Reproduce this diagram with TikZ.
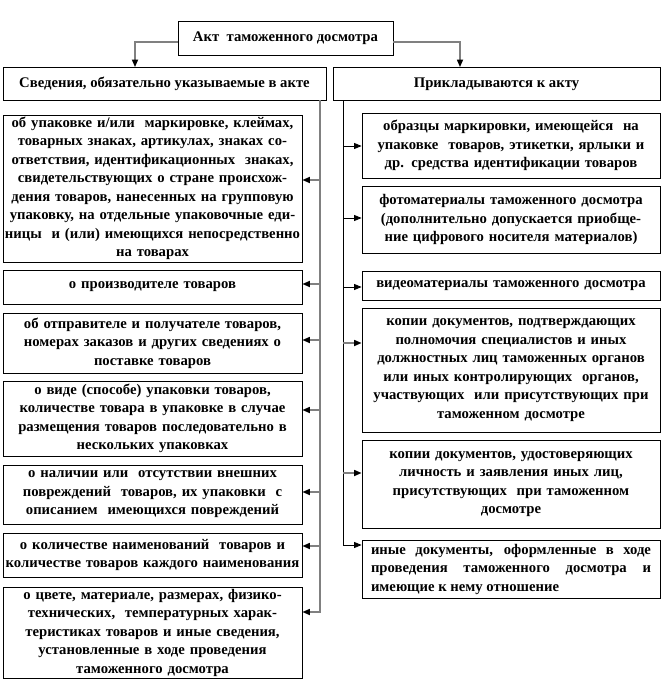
\documentclass[tikz,border=0pt]{standalone}
\usepackage{fontspec}
\setmainfont{Liberation Serif}
\usetikzlibrary{arrows.meta}

\begin{document}
\begin{tikzpicture}[x=1pt, y=-1pt,
    box/.style={draw, line width=0.8pt, align=center, inner sep=1pt,
      font=\bfseries\fontsize{14.7}{18.5}\selectfont},
    headbox/.style={box, font=\bfseries\fontsize{14.7}{17}\selectfont},
    lbox/.style={box, minimum width=299pt, text width=297pt},
    rbox/.style={box, minimum width=298pt, text width=296pt},
    gline/.style={draw=black!50, line width=1.6pt},
    garrow/.style={gline, -{Triangle[length=7.5pt, width=6pt, color=black]}},
    barrow/.style={draw=black, line width=0.8pt, -{Triangle[length=7.5pt, width=6pt]}}]
    \useasboundingbox (0,0) rectangle (662,682);

    % Top and headers
    \node[headbox, minimum width=215pt, minimum height=34pt] (act) at (285.5,38) {Акт\ \ таможенного досмотра};
    \node[headbox, minimum width=323pt, minimum height=33pt] (lhead) at (164.5,84) {Сведения, обязательно указываемые в акте};
    \node[headbox, minimum width=327pt, minimum height=33pt] (rhead) at (496.5,84) {Прикладываются к акту};

    \draw[garrow] ([yshift=-4pt]act.west) -| ([xshift=-29.5pt]lhead.north);
    \draw[garrow] ([yshift=-4pt]act.east) -| ([xshift=-36.5pt]rhead.north);

    % Left column
    \node[lbox, minimum height=147pt] (l1) at (152.5,188.5) {об упаковке и/или\ \ маркировке, клеймах,\\ товарных знаках, артикулах, знаках со-\\ ответствия, идентификационных\ \ знаках,\\ свидетельствующих о стране происхож-\\ дения товаров, нанесенных на групповую\\ упаковку, на отдельные упаковочные еди-\\ ницы\ \ и (или) имеющихся непосредственно\\ на товарах};
    \node[lbox, minimum height=34pt] (l2) at (152.5,287) {о производителе товаров};
    \node[lbox, minimum height=60pt] (l3) at (152.5,343) {об отправителе и получателе товаров,\\ номерах заказов и других сведениях о\\ поставке товаров};
    \node[lbox, minimum height=75pt] (l4) at (152.5,418.5) {о виде (способе) упаковки товаров,\\ количестве товара в упаковке в случае\\ размещения товаров последовательно в\\ нескольких упаковках};
    \node[lbox, minimum height=59pt] (l5) at (152.5,494.5) {о наличии или\ \ отсутствии внешних\\ повреждений\ \ товаров, их упаковки\ \ с\\ описанием\ \ имеющихся повреждений};
    \node[lbox, minimum height=44pt] (l6) at (152.5,555) {о количестве наименований\ \ товаров и\\ количестве товаров каждого наименования};
    \node[lbox, minimum height=91pt] (l7) at (152.5,632.5) {о цвете, материале, размерах, физико-\\ технических,\ \ температурных харак-\\ теристиках товаров и иные сведения,\\ установленные в ходе проведения\\ таможенного досмотра};

    % Right column
    \node[rbox, minimum height=65pt] (r1) at (511,145.5) {образцы маркировки, имеющейся\ \ на\\ упаковке\ \ товаров, этикетки, ярлыки и\\ др. средства идентификации товаров};
    \node[rbox, minimum height=67pt] (r2) at (511,219.5) {фотоматериалы таможенного досмотра\\ (дополнительно допускается приобще-\\ ние цифрового носителя материалов)};
    \node[rbox, minimum height=29pt] (r3) at (511,285.5) {видеоматериалы таможенного досмотра};
    \node[rbox, minimum height=124pt] (r4) at (511,370) {копии документов, подтверждающих\\ полномочия специалистов и иных\\ должностных лиц таможенных органов\\ или иных контролирующих\ \ органов,\\ участвующих\ \ или присутствующих при\\ таможенном досмотре};
    \node[rbox, minimum height=88pt] (r5) at (511,484) {копии документов, удостоверяющих\\ личность и заявления иных лиц,\\ присутствующих\ \ при таможенном\\ досмотре};
    \node[rbox, minimum height=58pt, text width=280pt, align=justify] (r6) at (511,569) {иные документы, оформленные в ходе\linebreak проведения таможенного досмотра и\linebreak имеющие к нему отношение};

    % Spines and stubs
    \coordinate (ltop) at (320,100.5);
    \coordinate (rtop) at (343,100.5);
    \foreach \n/\d in {l1/8.5, l2/3, l3/3, l4/8.5, l5/2.5, l6/9, l7/20.5}
      \coordinate (\n a) at ([yshift=\d]\n.east);
    \foreach \n/\d in {r1/-0.5, r2/1.5, r3/-1.5, r4/27, r5/11, r6/24}
      \coordinate (\n a) at ([yshift=\d]\n.west);

    \draw[garrow] (ltop) |- (l7a);
    \foreach \n in {l1,l2,l3,l4,l5,l6}
      \draw[garrow] (\n a -| ltop) -- (\n a);

    \draw[barrow] (rtop) |- (r6a);
    \foreach \n in {r1,r2,r3}
      \draw[barrow] (\n a -| rtop) -- (\n a);
    \foreach \n in {r4,r5}
      \draw[garrow] (\n a -| rtop) -- (\n a);
\end{tikzpicture}
\end{document}
